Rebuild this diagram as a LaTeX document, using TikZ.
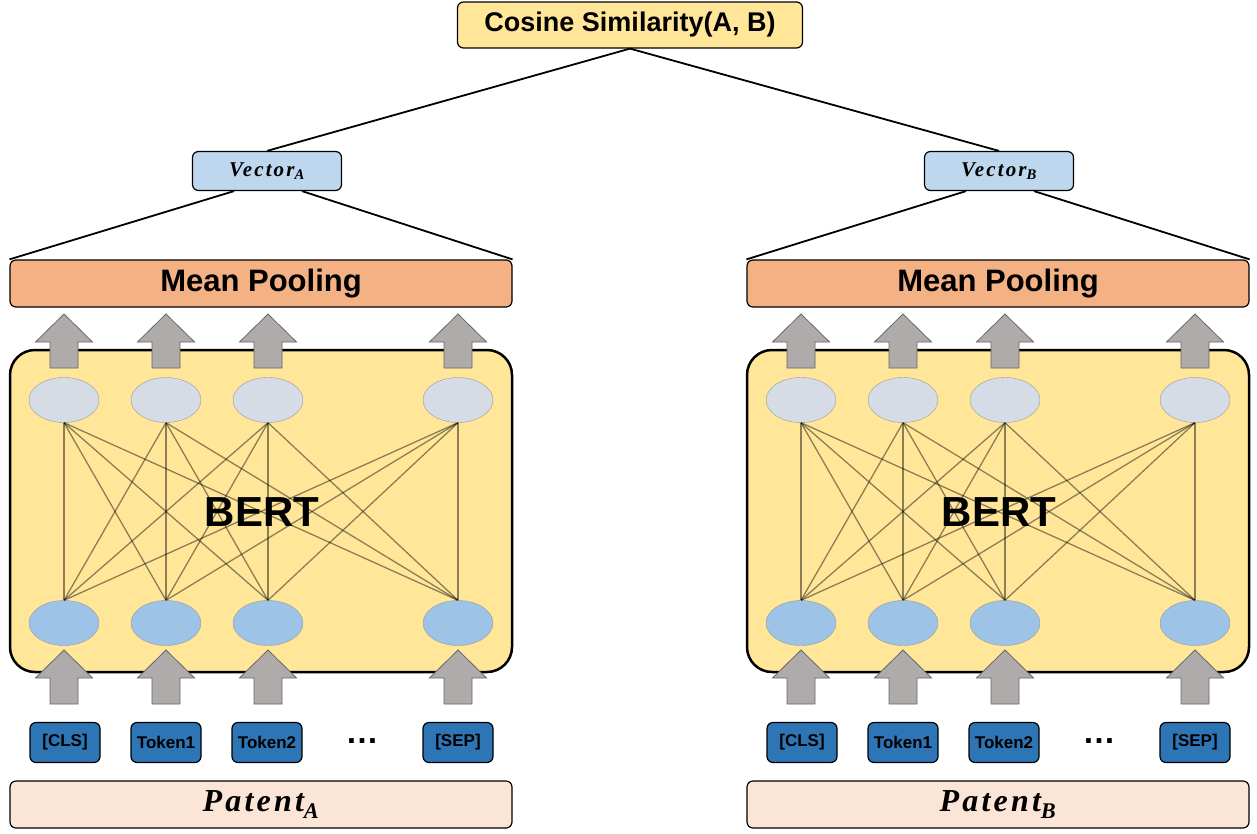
\documentclass[tikz,border=0pt]{standalone}
\usepackage{fontspec}
\setmainfont{Liberation Sans}
\newfontfamily\vecfont[LetterSpace=10]{Liberation Serif}
\usetikzlibrary{positioning,shapes.geometric}
\definecolor{cosyellow}{RGB}{255,230,153}
\definecolor{vecblue}{RGB}{189,215,238}
\definecolor{poolorange}{RGB}{244,177,131}
\definecolor{topgray}{RGB}{214,220,229}
\definecolor{botblue}{RGB}{157,195,230}
\definecolor{tokblue}{RGB}{46,117,182}
\definecolor{patpeach}{RGB}{251,229,214}
\definecolor{arrowgray}{RGB}{175,171,171}

% block arrow pointing up, #1 = x centre, #2 = y of the base
\newcommand{\blockup}[2]{%
  \filldraw[blockarrow] (#1-14,#2) -- (#1-14,#2-26) -- (#1-28.5,#2-26) -- (#1,#2-54)
    -- (#1+28.5,#2-26) -- (#1+14,#2-26) -- (#1+14,#2) -- cycle;}

\begin{document}
\begin{tikzpicture}[x=1pt,y=-1pt,
    box/.style={draw,rounded corners=6pt,line width=1.2pt,inner sep=0pt},
    link/.style={line width=1.8pt},
    mesh/.style={draw=black,opacity=0.45,line width=1.3pt},
    neuron/.style={draw=black!40,ellipse,minimum width=70pt,minimum height=45pt,inner sep=0pt},
    blockarrow/.style={fill=arrowgray,draw=black!60,line width=0.8pt},
    tokbox/.style={box,fill=tokblue,minimum width=70pt,minimum height=40pt,font=\bfseries\fontsize{17}{17}\selectfont}]
\useasboundingbox (0,0) rectangle (1257,833);

    % Similarity on top
    \node[box,fill=cosyellow,minimum width=345pt,minimum height=46pt,
          font=\bfseries\fontsize{27}{27}\selectfont] (cos) at (630,25) {Cosine Similarity(A, B)};

    \foreach \s/\dx/\vx in {A/0/267,B/737/999}{
        % Sentence vector
        \node[box,fill=vecblue,minimum width=149pt,minimum height=39pt,
              font=\vecfont\bfseries\itshape\fontsize{21}{21}\selectfont] (vec\s) at (\vx,171) {Vector\textsubscript{\s}};
        \draw[link] (cos.south) -- (vec\s.north);

        % Mean pooling
        \node[box,fill=poolorange,minimum width=502pt,minimum height=47pt,
              font=\bfseries\fontsize{31}{31}\selectfont] (pool\s) at (\dx+261,283.5) {Mean Pooling};
        \draw[link] ([xshift=-33pt]vec\s.south) -- (pool\s.north west);
        \draw[link] ([xshift=35pt]vec\s.south) -- (pool\s.north east);

        % BERT block
        \node[draw,rounded corners=25pt,line width=2.5pt,fill=cosyellow,
              minimum width=502pt,minimum height=322pt] (bert\s) at (\dx+261,511) {};
        \node[font=\bfseries\fontsize{42}{42}\selectfont] (bertlbl\s) at (\dx+262,512) {BERT};

        \foreach \i/\x in {1/64,2/166,3/268,4/458}{
            \node[neuron,fill=topgray] (top\s\i) at (\dx+\x,400) {};
            \node[neuron,fill=botblue] (bot\s\i) at (\dx+\x,623) {};
            \blockup{\dx+\x}{368}
            \blockup{\dx+\x}{704}
        }
        \foreach \i in {1,...,4}
            \foreach \j in {1,...,4}
                \draw[mesh] (top\s\i.south) -- (bot\s\j.north);

        % Input tokens
        \foreach \i/\x/\t in {1/65/{[CLS]},2/166/Token1,3/267/Token2,4/458/{[SEP]}}
            \node[tokbox] (tok\s\i) at (\dx+\x,742.5) {\t};
        \node[font=\bfseries\fontsize{33}{33}\selectfont] (dots\s) at (\dx+362,741) {…};

        % Input patent
        \node[box,fill=patpeach,minimum width=502pt,minimum height=47pt,
              font=\vecfont\bfseries\itshape\fontsize{32}{32}\selectfont] (pat\s) at (\dx+261,804.5) {Patent\textsubscript{\s}};
    }
\end{tikzpicture}
\end{document}
